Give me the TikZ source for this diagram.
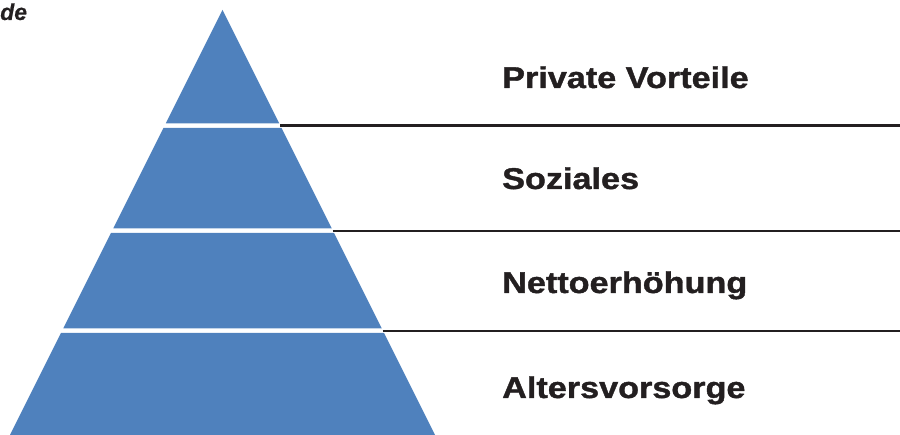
\documentclass[tikz,border=0pt]{standalone}
\usepackage{fontspec}
\setmainfont{Liberation Sans}
\newfontfamily\lblfont[FakeStretch=1.14,FakeBold=1.3]{Liberation Sans Bold}
\newfontfamily\cutfont[FakeBold=0.5]{Liberation Sans Bold Italic}
\definecolor{pyrblue}{HTML}{4F81BD}
\definecolor{rulecol}{HTML}{231F20}
\begin{document}
\begin{tikzpicture}[x=1pt,y=-1pt,
  seg/.style={fill=pyrblue,draw=none},
  lbl/.style={anchor=base west,inner sep=0pt,font=\lblfont\fontsize{30}{36}\selectfont,text=rulecol},
  sep/.style={draw=rulecol,line width=2.8pt}]
\useasboundingbox (0,0) rectangle (900,435);
% pyramid: left x = 222.5-0.5(y-10), right = 222.5+0.5(y-10)
\fill[seg] (222.5,10) -- (279.25,123.5) -- (165.75,123.5) -- cycle;
\fill[seg] (163.5,128) -- (281.5,128) -- (331.75,228.5) -- (113.25,228.5) -- cycle;
\fill[seg] (111,233) -- (334,233) -- (381.75,328.5) -- (63.25,328.5) -- cycle;
\fill[seg] (61,333) -- (384,333) -- (435,435) -- (10,435) -- cycle;
% separator lines
\coordinate (l1a) at (280,125.5); \coordinate (l1b) at (900,125.5);
\coordinate (l2a) at (332.5,231); \coordinate (l2b) at (900,231);
\coordinate (l3a) at (382.5,331); \coordinate (l3b) at (900,331);
\draw[sep] (l1a) -- (l1b);
\draw[sep] (l2a) -- (l2b);
\draw[sep] (l3a) -- (l3b);
% labels
\node[lbl] (t1) at (502,88) {Private Vorteile};
\node[lbl] (t2) at (502,189) {Soziales};
\node[lbl] (t3) at (502,293) {Nettoerhöhung};
\node[lbl] (t4) at (502,398) {Altersvorsorge};
\node[anchor=base west,inner sep=0pt,font=\cutfont\fontsize{23}{27}\selectfont,text=rulecol] (cut) at (0,20) {de};
\end{tikzpicture}
\end{document}
